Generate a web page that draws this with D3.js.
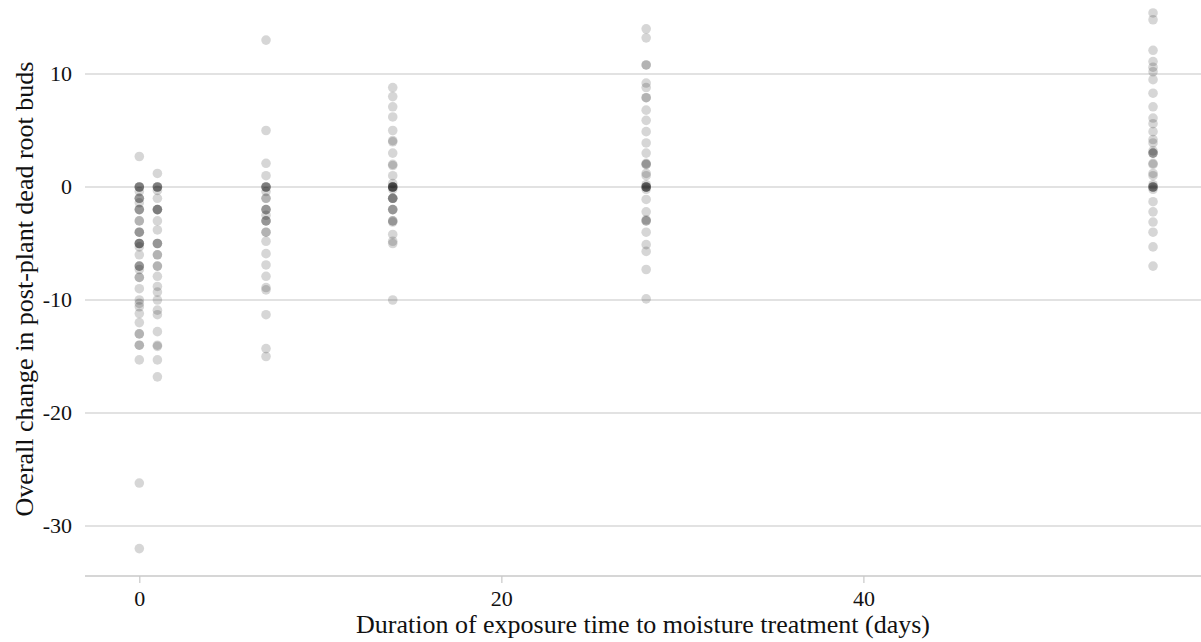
<!DOCTYPE html>
<html>
<head>
<meta charset="utf-8">
<script src="https://cdn.jsdelivr.net/npm/d3@7"></script>
<style>
  html, body { margin: 0; padding: 0; background: #fff; }
  svg { display: block; font-family: "Liberation Serif", "Times New Roman", serif; }
</style>
</head>
<body>
<div id="chart"></div>
<script>
const days = [0, 1, 7, 14, 28, 56];
const day0 = [2.7, 0, 0, 0, 0, -0.4, -1, -1, -1, -1.4, -2, -2, -2, -3, -3, -4, -4, -4, -5, -5, -5, -5, -5.3, -6, -7, -7, -7,
  -7.3, -8, -8, -9, -10, -10.3, -10.6, -11.2, -12, -13, -13, -14, -14, -15.3, -26.2, -32];
const day1 = [1.2, 0, 0, 0, 0, -0.3, -1, -2, -2, -2, -2, -3, -3.8, -5, -5, -5, -6, -6, -7, -7, -7.9, -8.8, -9.3, -10,
  -10.9, -11.3, -12.8, -14, -14.1, -15.3, -16.8];
const day7 = [13, 5, 2.1, 1, 0, 0, 0, 0, -0.4, -1, -1, -2, -2, -2, -2.5, -3, -3, -3, -4, -4, -4.8, -5.9, -6.9, -7.9,
  -8.9, -9.1, -11.3, -14.3, -15];
const day14 = [8.8, 8, 7.1, 6.2, 5, 4.1, 4, 3, 2, 1.9, 1, 0.3, 0, 0, 0, 0, 0, 0, -0.2, -1, -1, -1, -1, -2, -2, -2, -3, -3,
  -3.1, -4.2, -4.8, -5, -10];
const day28 = [14, 13.2, 10.8, 10.8, 9.2, 8.8, 7.9, 7.9, 6.8, 5.9, 4.9, 3.9, 3, 2.1, 2, 2, 1.2, 1, 0.2, 0, 0, 0, 0, 0,
  -0.2, -1.1, -2.2, -2.9, -3, -3, -4, -5.1, -5.7, -7.3, -9.9];
const day56 = [15.4, 14.8, 12.1, 11.1, 10.6, 10.2, 9.5, 8.3, 7.1, 6.1, 5.6, 4.9, 4.2, 3.9, 3, 3, 3, 3.2, 2.1, 2, 1.2, 1,
  0.2, 0, 0, 0, 0, -0.2, -1.3, -2.2, -3.1, -4, -5.3, -7];
const seriesByDay = [day0, day1, day7, day14, day28, day56];

const xTicks = [0, 20, 40];
const yTicks = [10, 0, -10, -20, -30];

const W = 1201, H = 642;
const svg = d3.select('#chart').append('svg').attr('width', W).attr('height', H);

const x = d3.scaleLinear().domain([-3, 58.65]).range([85, 1201]);
const y = d3.scaleLinear().domain([0, 10]).range([187, 74]);

// gridlines
svg.append('g')
  .selectAll('line')
  .data(yTicks)
  .join('line')
  .attr('x1', 85).attr('x2', W)
  .attr('y1', d => y(d)).attr('y2', d => y(d))
  .attr('stroke', '#d9d9d9').attr('stroke-width', 1.5);

// y tick labels
svg.append('g')
  .selectAll('text')
  .data(yTicks)
  .join('text')
  .attr('x', 72).attr('y', d => y(d) + 7)
  .attr('text-anchor', 'end')
  .style('font-size', '22px')
  .attr('fill', '#111')
  .text(d => d);

// bottom axis
const axisY = 576;
const xAxis = svg.append('g')
  .attr('transform', `translate(0,${axisY})`)
  .call(d3.axisBottom(x).tickValues(xTicks).tickSize(7).tickPadding(7));
xAxis.select('.domain').attr('stroke', '#c8c8c8').attr('stroke-width', 1.5)
  .attr('d', `M85,0H${W}`);
xAxis.selectAll('.tick line').attr('stroke', '#c8c8c8').attr('stroke-width', 1.2);
xAxis.selectAll('.tick text')
  .style('font-family', '"Liberation Serif", "Times New Roman", serif')
  .style('font-size', '22px').attr('fill', '#111');

// points
const pts = [];
days.forEach((d, i) => seriesByDay[i].forEach(v => pts.push({ day: d, val: v })));
svg.append('g')
  .selectAll('circle')
  .data(pts)
  .join('circle')
  .attr('cx', d => x(d.day))
  .attr('cy', d => y(d.val))
  .attr('r', 4.8)
  .attr('fill', '#000')
  .attr('fill-opacity', 0.16);

// axis titles
svg.append('text')
  .attr('x', 643).attr('y', 633)
  .attr('text-anchor', 'middle')
  .style('font-size', '26px')
  .attr('fill', '#111')
  .text('Duration of exposure time to moisture treatment (days)');

svg.append('text')
  .attr('transform', 'translate(33,289) rotate(-90)')
  .attr('text-anchor', 'middle')
  .style('font-size', '26px')
  .attr('fill', '#111')
  .text('Overall change in post-plant dead root buds');
</script>
</body>
</html>
